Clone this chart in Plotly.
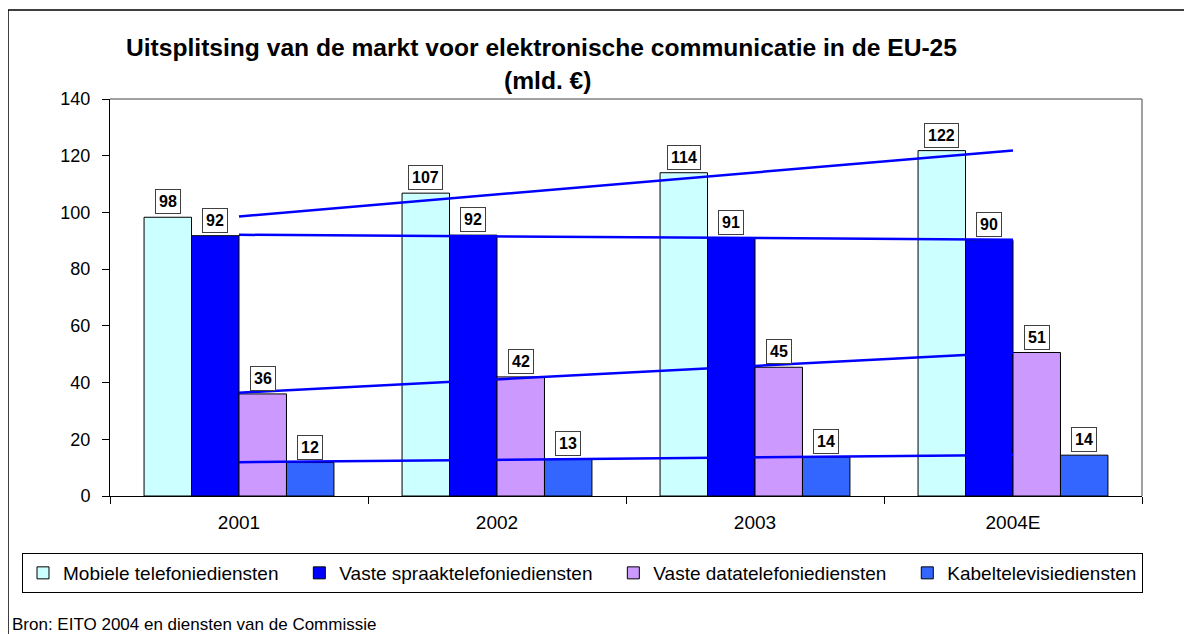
import numpy as np
import plotly.graph_objects as go

# data
years = ["2001", "2002", "2003", "2004E"]
mobiel = [98.3, 106.8, 114.0, 121.8]
spraak = [91.8, 92.0, 91.0, 90.2]
data_tel = [36.0, 42.0, 45.4, 50.6]
kabel = [11.8, 12.9, 13.7, 14.4]

series_names = ["Mobiele telefoniediensten", "Vaste spraaktelefoniediensten",
                "Vaste datatelefoniediensten", "Kabeltelevisiediensten"]
series_colors = ["#CCFFFF", "#0000FF", "#CC99FF", "#3366FF"]
all_series = [mobiel, spraak, data_tel, kabel]

FONT = "Arial, Liberation Sans, sans-serif"

# the page body adds an 8px margin, so everything below is in page pixels minus 8
OFF = 8
W, H = 1192 - OFF, 634 - OFF
L, R, T, B = 110 - OFF, 1142 - OFF, 99 - OFF, 496 - OFF
pw, ph = R - L, B - T


def px_x(x):
    return (x - OFF - L) / pw


def px_y(y):
    return (B - (y - OFF)) / ph


fig = go.Figure()

# a little extra gap between legend entries, like the original
pad = "\u00a0" * 3
for j, (name, col, vals) in enumerate(zip(series_names, series_colors, all_series)):
    fig.add_trace(go.Bar(
        x=years, y=vals, name=name + (pad if j < len(series_names) - 1 else ""),
        marker=dict(color=col, line=dict(color="black", width=1)),
    ))

# linear trendlines
xi = np.arange(len(years))
for vals in all_series:
    k, m = np.polyfit(xi, vals, 1)
    fig.add_trace(go.Scatter(
        x=years, y=k * xi + m, mode="lines", showlegend=False,
        line=dict(color="#0000FF", width=2.5), hoverinfo="skip"
    ))

# boxed value labels above each bar (x as category index, "2001" would be read as a number)
bar_w = pw / len(years) * 0.736 / 4
for i, vals in enumerate(all_series):
    for j, v in enumerate(vals):
        fig.add_annotation(
            x=j, y=v, text=f"<b>{round(v)}</b>", showarrow=False,
            xshift=(i - 1.5) * bar_w, yshift=3, yanchor="bottom",
            font=dict(family=FONT, size=16, color="black"),
            bgcolor="white", bordercolor="#404040", borderwidth=1, borderpad=3,
        )

# title
fig.add_annotation(
    xref="paper", yref="paper", x=px_x(541), y=px_y(48),
    text="<b>Uitsplitsing van de markt voor elektronische communicatie in de EU-25</b>",
    showarrow=False, font=dict(family=FONT, size=24.6, color="black"), yanchor="middle"
)
fig.add_annotation(
    xref="paper", yref="paper", x=px_x(547), y=px_y(81),
    text="<b>(mld. €)</b>",
    showarrow=False, font=dict(family=FONT, size=24.6, color="black"), yanchor="middle"
)
# source
fig.add_annotation(
    xref="paper", yref="paper", x=px_x(10), y=px_y(624),
    text="Bron: EITO 2004 en diensten van de Commissie",
    showarrow=False, xanchor="left", yanchor="middle",
    font=dict(family=FONT, size=17, color="black")
)

# outer frame and grey plot border (top, right)
fig.add_shape(type="rect", xref="paper", yref="paper",
              x0=px_x(8), y0=px_y(10), x1=px_x(1192 + 50), y1=px_y(634 + 50),
              line=dict(color="black", width=1.5))
fig.add_shape(type="line", xref="paper", yref="paper", x0=0, y0=1, x1=1, y1=1,
              line=dict(color="#808080", width=1.5))
fig.add_shape(type="line", xref="paper", yref="paper", x0=1, y0=0, x1=1, y1=1,
              line=dict(color="#808080", width=1.5))

fig.update_layout(
    width=W, height=H,
    margin=dict(l=L, r=W - R, t=T, b=H - B, pad=0),
    paper_bgcolor="white", plot_bgcolor="white",
    barmode="group", bargap=0.264, bargroupgap=0,
    font=dict(family=FONT, color="black"),
    showlegend=True,
    legend=dict(
        orientation="h", x=px_x(22), y=px_y(553), xanchor="left", yanchor="top",
        bordercolor="black", borderwidth=1, bgcolor="white",
        font=dict(family=FONT, size=19, color="black"),
        itemwidth=30, traceorder="normal",
    ),
    xaxis=dict(
        type="category", range=[-0.5, len(years) - 0.5],
        showline=True, linecolor="black", linewidth=1,
        ticks="outside", ticklen=7, tickcolor="black", tickson="boundaries",
        ticklabelstandoff=9,
        tickfont=dict(family=FONT, size=19), showgrid=False,
    ),
    yaxis=dict(
        range=[0, 140], dtick=20, showline=True, linecolor="black", linewidth=1,
        ticks="outside", ticklen=7, tickcolor="black", ticklabelstandoff=8,
        tickfont=dict(family=FONT, size=18), showgrid=False, zeroline=False,
    ),
)

fig.write_html("out.html")
